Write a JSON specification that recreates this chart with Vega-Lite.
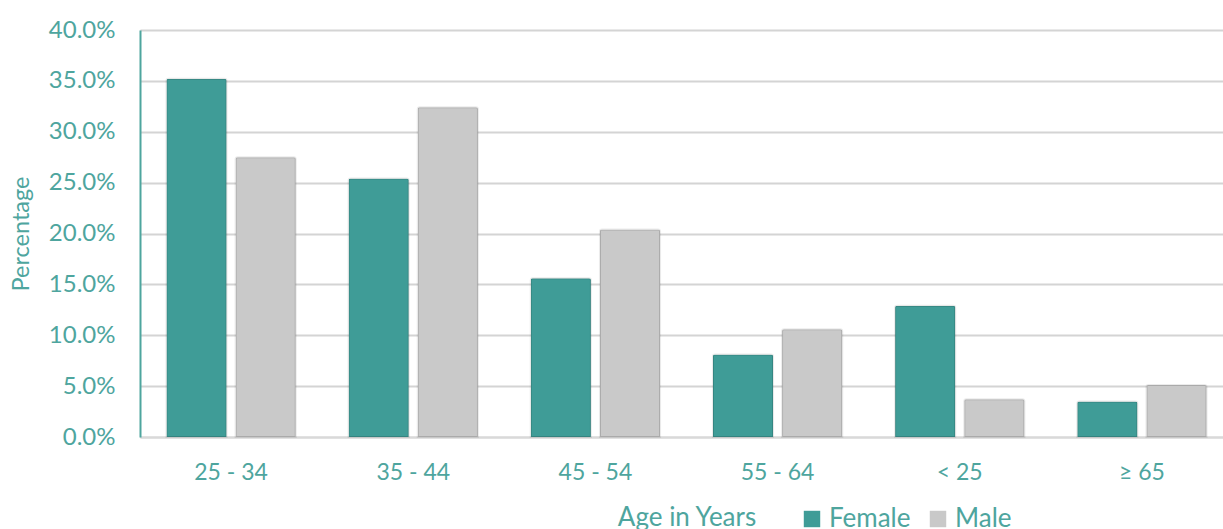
{
  "$schema": "https://vega.github.io/schema/vega-lite/v6.json",
  "width": 1083,
  "height": 407,
  "autosize": {"type": "none"},
  "padding": {"left": 140, "top": 30, "right": 0, "bottom": 92},
  "background": "white",
  "config": {
    "font": "Lato",
    "view": {"stroke": null}
  },
  "data": {
    "values": [
      {"age": "25 - 34", "gender": "Female", "pct": 0.352},
      {"age": "25 - 34", "gender": "Male", "pct": 0.275},
      {"age": "35 - 44", "gender": "Female", "pct": 0.254},
      {"age": "35 - 44", "gender": "Male", "pct": 0.324},
      {"age": "45 - 54", "gender": "Female", "pct": 0.156},
      {"age": "45 - 54", "gender": "Male", "pct": 0.204},
      {"age": "55 - 64", "gender": "Female", "pct": 0.081},
      {"age": "55 - 64", "gender": "Male", "pct": 0.106},
      {"age": "< 25", "gender": "Female", "pct": 0.129},
      {"age": "< 25", "gender": "Male", "pct": 0.037},
      {"age": "≥ 65", "gender": "Female", "pct": 0.035},
      {"age": "≥ 65", "gender": "Male", "pct": 0.051}
    ]
  },
  "mark": {
    "type": "bar",
    "cornerRadiusTopLeft": 2,
    "cornerRadiusTopRight": 2,
    "stroke": "rgba(0,0,0,0.08)",
    "strokeWidth": 2
  },
  "encoding": {
    "x": {
      "field": "age",
      "type": "nominal",
      "sort": ["25 - 34", "35 - 44", "45 - 54", "55 - 64", "< 25", "≥ 65"],
      "scale": {"range": [0, 1093], "paddingInner": 0.29, "paddingOuter": 0.145},
      "axis": {
        "title": "Age in Years",
        "titleColor": "#4ea59e",
        "titleFontSize": 26,
        "titleFontWeight": "normal",
        "titlePadding": 20,
        "labelAngle": 0,
        "labelColor": "#4ea59e",
        "labelFontSize": 23,
        "labelPadding": 24,
        "ticks": false,
        "domainColor": "#d9d9d9",
        "domainWidth": 2
      }
    },
    "xOffset": {
      "field": "gender",
      "type": "nominal",
      "scale": {"paddingInner": 0.13}
    },
    "y": {
      "field": "pct",
      "type": "quantitative",
      "scale": {"domain": [0, 0.4]},
      "axis": {
        "title": "Percentage",
        "titleColor": "#4ea59e",
        "titleFontSize": 23.5,
        "titleFontWeight": "normal",
        "titlePadding": 15,
        "format": ".1%",
        "values": [0, 0.05, 0.1, 0.15, 0.2, 0.25, 0.3, 0.35, 0.4],
        "labelColor": "#4ea59e",
        "labelFontSize": 24,
        "labelPadding": 25,
        "ticks": false,
        "domainColor": "#4ea59e",
        "domainWidth": 2,
        "gridColor": "#d4d4d4",
        "gridWidth": 2
      }
    },
    "color": {
      "field": "gender",
      "type": "nominal",
      "scale": {"domain": ["Female", "Male"], "range": ["#3f9c97", "#c9c9c9"]},
      "legend": {
        "title": null,
        "orient": "none",
        "direction": "horizontal",
        "legendX": 659,
        "legendY": 476,
        "symbolType": "square",
        "symbolSize": 270,
        "symbolStrokeWidth": 0,
        "labelColor": "#4ea59e",
        "labelFontSize": 26,
        "labelOffset": 4,
        "columnPadding": 14
      }
    }
  }
}
